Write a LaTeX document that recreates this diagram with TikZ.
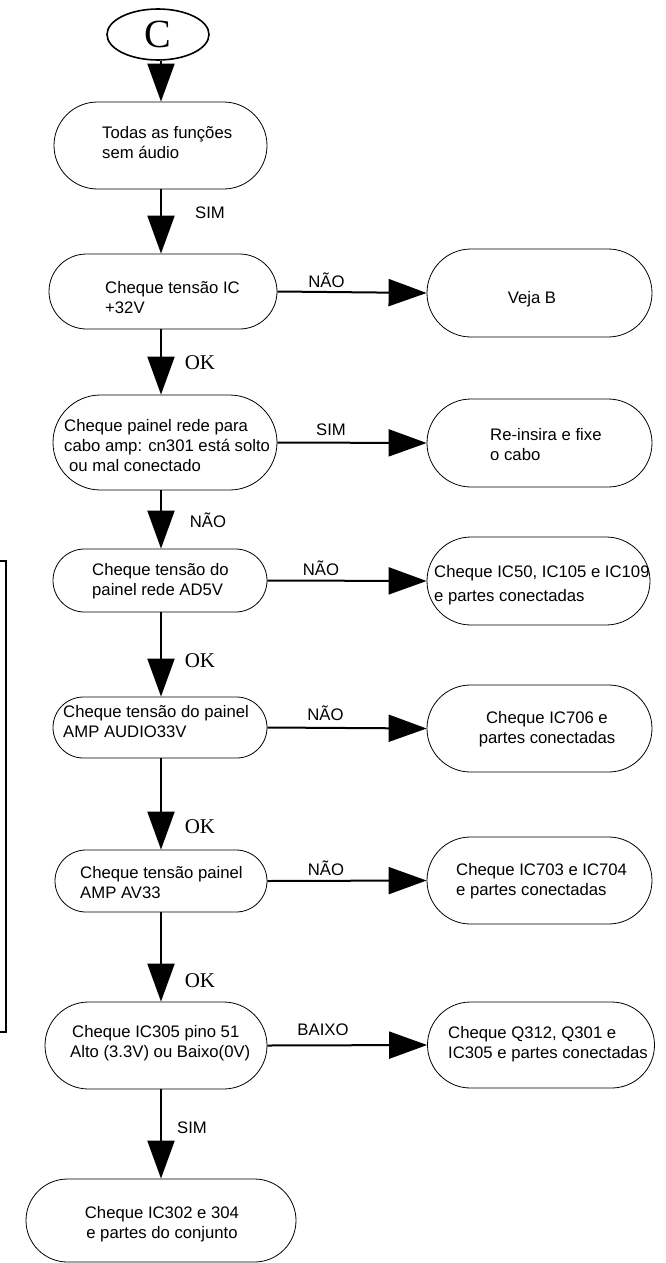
\documentclass[tikz,border=0pt]{standalone}
\usepackage{fontspec}
\setmainfont{Liberation Sans}
\newfontfamily\serifface{Liberation Serif}
\usetikzlibrary{arrows.meta,shapes.geometric,shapes.misc}
\begin{document}
\begin{tikzpicture}[x=1pt,y=-1pt,
  stadium/.style={draw, line width=0.8pt, rounded rectangle, inner sep=0pt},
  txt/.style={font=\fontsize{16.7}{20}\selectfont, align=left, inner sep=0pt, anchor=west},
  ctxt/.style={font=\fontsize{16.7}{20}\selectfont, align=center, inner sep=0pt},
  lbl/.style={font=\fontsize{16.7}{20}\selectfont, anchor=base, inner sep=0pt},
  oklbl/.style={font=\serifface\fontsize{21}{24}\selectfont, anchor=base, inner sep=0pt},
  flow/.style={line width=2pt, -{Triangle[length=38pt,width=27pt]}},
]
\useasboundingbox (0,0) rectangle (665,1263);

% main column of the chart
\coordinate (sp) at (161,0);

\node[draw, ellipse, line width=1.6pt, minimum width=102pt, minimum height=51pt,
      inner sep=0pt, font=\serifface\fontsize{40}{40}\selectfont] (c) at (158,34.5) {C};

\node[stadium, minimum width=213pt, minimum height=87pt] (b1) at (160.5,145.5) {};
\node[txt] (b1t) at (102,142.3) {Todas as funções\\sem áudio};

\node[stadium, minimum width=228pt, minimum height=75pt] (b2) at (163,291.5) {};
\node[txt] (b2t) at (105,297.8) {Cheque tensão IC\\+32V};

\node[stadium, minimum width=224pt, minimum height=95pt] (b3) at (165,442.5) {};
\node[txt] (b3t) at (64,445.8) {Cheque painel rede para\\cabo amp: cn301 está solto\\\hspace*{5pt}ou mal conectado};

\node[stadium, minimum width=214pt, minimum height=63pt] (b4) at (160,580.5) {};
\node[txt] (b4t) at (92,581.5) {Cheque tensão do\\painel rede AD5V};

\node[stadium, minimum width=214pt, minimum height=61pt] (b5) at (160,727.5) {};
\node[txt] (b5t) at (63,721.8) {Cheque tensão do painel\\AMP AUDIO33V};

\node[stadium, minimum width=212pt, minimum height=62pt] (b6) at (161,881) {};
\node[txt] (b6t) at (80,882.8) {Cheque tensão painel\\AMP AV33};

\node[stadium, minimum width=222pt, minimum height=87pt] (b7) at (156,1045.5) {};
\node[txt] (b7t) at (70,1043.2) {\hspace*{2pt}Cheque IC305 pino 51\\Alto (3.3V) ou Baixo(0V)};

\node[stadium, minimum width=270pt, minimum height=83pt] (b8) at (161,1220.5) {};
\node[ctxt] (b8t) at (162,1224.5) {Cheque IC302 e 304\\e partes do conjunto};

% side column of actions
\node[stadium, minimum width=225pt, minimum height=88pt] (r1) at (539.5,293) {};
\node[ctxt] (r1t) at (532,298.8) {Veja B};

\node[stadium, minimum width=225pt, minimum height=88pt] (r2) at (539.5,443) {};
\node[txt] (r2t) at (490,444.9) {Re-insira e fixe\\o cabo};

\node[stadium, minimum width=223pt, minimum height=88pt] (r3) at (538.5,581) {};
\node[txt] (r3t) at (434,585.5) {Cheque IC50, IC105 e IC109\\[4pt]e partes conectadas};

\node[stadium, minimum width=225pt, minimum height=87pt] (r4) at (539.5,728.5) {};
\node[ctxt] (r4t) at (547,729.5) {Cheque IC706 e\\partes conectadas};

\node[stadium, minimum width=225pt, minimum height=87pt] (r5) at (539.5,880.5) {};
\node[txt] (r5t) at (456,881.5) {Cheque IC703 e IC704\\e partes conectadas};

\node[stadium, minimum width=227pt, minimum height=86pt] (r6) at (541,1045) {};
\node[txt] (r6t) at (448,1044.5) {Cheque Q312, Q301 e\\IC305 e partes conectadas};

% vertical flow
\draw[flow] (c.south -| sp) -- (b1.north -| sp);
\draw[flow] (b1.south -| sp) -- (b2.north -| sp);
\draw[flow] (b2.south -| sp) -- (b3.north -| sp);
\draw[flow] (b3.south -| sp) -- (b4.north -| sp);
\draw[flow] (b4.south -| sp) -- (b5.north -| sp);
\draw[flow] (b5.south -| sp) -- (b6.north -| sp);
\draw[flow] (b6.south -| sp) -- (b7.north -| sp);
\draw[flow] (b7.south -| sp) -- (b8.north -| sp);

% branches to the right
\draw[flow] (b2.east) -- (r1.west);
\draw[flow] (b3.east) -- (r2.west);
\draw[flow] (b4.east) -- (r3.west);
\draw[flow] (b5.east) -- (r4.west);
\draw[flow] (b6.east) -- (r5.west);
\draw[flow] (b7.east) -- (r6.west);

% connector labels
\node[lbl] (l1) at (210,218) {SIM};
\node[oklbl] (l2) at (200,369) {OK};
\node[lbl] (l3) at (208,527) {NÃO};
\node[oklbl] (l4) at (200,667) {OK};
\node[oklbl] (l5) at (200,833) {OK};
\node[oklbl] (l6) at (200,987) {OK};
\node[lbl] (l7) at (192,1133) {SIM};
\node[lbl] (l8) at (326.5,287) {NÃO};
\node[lbl] (l9) at (331,435) {SIM};
\node[lbl] (l10) at (321,575) {NÃO};
\node[lbl] (l11) at (325.5,720) {NÃO};
\node[lbl] (l12) at (326,875) {NÃO};
\node[lbl] (l13) at (323,1035) {BAIXO};

% bracket at the left margin
\draw[line width=1.6pt] (0,561) -- (6,561) -- (6,1032) -- (0,1032);
\end{tikzpicture}
\end{document}
